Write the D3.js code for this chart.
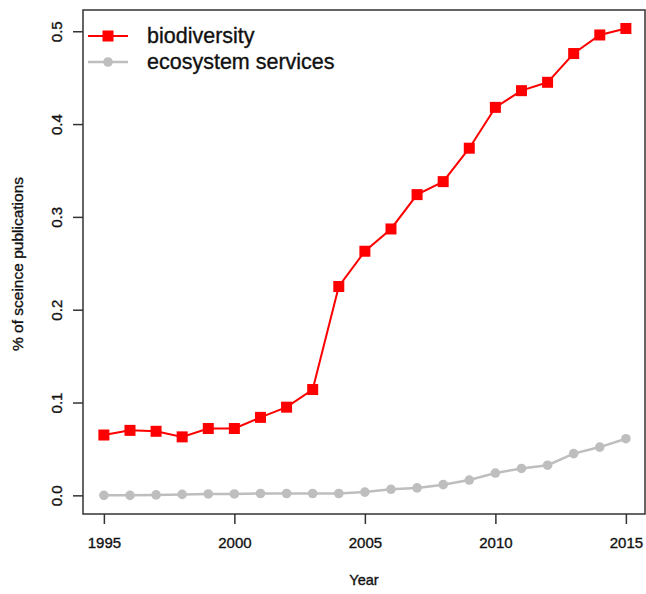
<!DOCTYPE html>
<html>
<head>
<meta charset="utf-8">
<script src="https://cdn.jsdelivr.net/npm/d3@7"></script>
<style>
  body { margin: 0; background: #fff; }
  text { font-family: "Liberation Sans", Arial, sans-serif; fill: #111; stroke: #111; stroke-width: 0.35px; }
</style>
</head>
<body>
<script>
const width = 646
const height = 594

// data
const years = [1995, 1996, 1997, 1998, 1999, 2000, 2001, 2002, 2003, 2004, 2005,
               2006, 2007, 2008, 2009, 2010, 2011, 2012, 2013, 2014, 2015]
const biodiversity = [0.065, 0.070, 0.069, 0.063, 0.072, 0.072, 0.084, 0.095, 0.114, 0.225, 0.263,
                      0.287, 0.324, 0.338, 0.374, 0.418, 0.436, 0.445, 0.476, 0.496, 0.503]
const ecosystem = [0.000, 0.000, 0.0005, 0.001, 0.0015, 0.0015, 0.002, 0.002, 0.002, 0.002, 0.0035,
                   0.0065, 0.008, 0.0115, 0.0165, 0.024, 0.029, 0.0325, 0.045, 0.052, 0.061]
const xTicks = [1995, 2000, 2005, 2010, 2015]
const yTicks = [0.0, 0.1, 0.2, 0.3, 0.4, 0.5]
const seriesNames = ['biodiversity', 'ecosystem services']

let svg = d3.select('body').append('svg')
    .attr('width', width)
    .attr('height', height)

// plot box like R (4% padding on both axes)
let box = { left: 83, right: 645, top: 10, bottom: 514 }

let x = d3.scaleLinear().domain([1994.2, 2015.8]).range([box.left, box.left + 21.6 * 26.1])
let y = d3.scaleLinear().domain([-0.0201, 0.5229]).range([box.bottom, box.top])

// frame
svg.append('rect')
    .attr('x', box.left)
    .attr('y', box.top)
    .attr('width', box.right - box.left)
    .attr('height', box.bottom - box.top)
    .attr('fill', 'none')
    .attr('stroke', '#333')
    .attr('stroke-width', 1.5)

// x axis
let xAxis = svg.append('g')
    .attr('transform', 'translate(0,' + box.bottom + ')')
    .call(d3.axisBottom(x).tickValues(xTicks).tickFormat(d3.format('d')).tickSize(10).tickPadding(13))
xAxis.select('.domain').remove()
xAxis.selectAll('line').attr('stroke', '#333').attr('stroke-width', 1.5)
xAxis.selectAll('text').style('font-size', '15px').attr('fill', '#111')

// y axis, labels turned like R's las=0
let yAxis = svg.append('g')
    .attr('transform', 'translate(' + box.left + ',0)')
    .call(d3.axisLeft(y).tickValues(yTicks).tickFormat(d3.format('.1f')).tickSize(10))
yAxis.select('.domain').remove()
yAxis.selectAll('line').attr('stroke', '#333').attr('stroke-width', 1.5)
yAxis.selectAll('text')
    .style('font-size', '15px')
    .attr('fill', '#111')
    .attr('x', null)
    .attr('dy', null)
    .attr('text-anchor', 'middle')
    .attr('transform', 'translate(-27,0) rotate(-90)')
    .attr('y', 0)
    .attr('dominant-baseline', 'central')

// axis titles
svg.append('text')
    .attr('x', (box.left + box.right) / 2)
    .attr('y', 585)
    .attr('text-anchor', 'middle')
    .style('font-size', '14.5px')
    .text('Year')

svg.append('text')
    .attr('transform', 'translate(23,' + 264 + ') rotate(-90)')
    .attr('text-anchor', 'middle')
    .style('font-size', '15.5px')
    .text('% of sceince publications')

let line = d3.line()
    .x((d, i) => x(years[i]))
    .y(d => y(d))

// ecosystem services (grey, circles)
svg.append('path')
    .datum(ecosystem)
    .attr('d', line)
    .attr('fill', 'none')
    .attr('stroke', '#bebebe')
    .attr('stroke-width', 2.5)

svg.selectAll('.eco')
    .data(ecosystem)
    .enter().append('circle')
    .attr('class', 'eco')
    .attr('cx', (d, i) => x(years[i]))
    .attr('cy', d => y(d))
    .attr('r', 4.8)
    .attr('fill', '#bebebe')

// biodiversity (red, squares)
svg.append('path')
    .datum(biodiversity)
    .attr('d', line)
    .attr('fill', 'none')
    .attr('stroke', '#ff0000')
    .attr('stroke-width', 2)

let sq = 11
svg.selectAll('.bio')
    .data(biodiversity)
    .enter().append('rect')
    .attr('class', 'bio')
    .attr('x', (d, i) => x(years[i]) - sq / 2)
    .attr('y', d => y(d) - sq / 2)
    .attr('width', sq)
    .attr('height', sq)
    .attr('fill', '#ff0000')

// legend
let legend = svg.append('g')
let legendColors = ['#ff0000', '#bebebe']
seriesNames.forEach(function(name, i) {
    let ly = 36 + i * 26
    legend.append('line')
        .attr('x1', 88).attr('x2', 128)
        .attr('y1', ly).attr('y2', ly)
        .attr('stroke', legendColors[i])
        .attr('stroke-width', i == 0 ? 2 : 2.5)
    if (i == 0) {
        legend.append('rect')
            .attr('x', 108 - sq / 2).attr('y', ly - sq / 2)
            .attr('width', sq).attr('height', sq)
            .attr('fill', legendColors[i])
    } else {
        legend.append('circle')
            .attr('cx', 108).attr('cy', ly).attr('r', 4.8)
            .attr('fill', legendColors[i])
    }
    legend.append('text')
        .attr('x', 147)
        .attr('y', ly)
        .attr('dominant-baseline', 'central')
        .style('font-size', '21.5px')
        .text(name)
})
</script>
</body>
</html>
